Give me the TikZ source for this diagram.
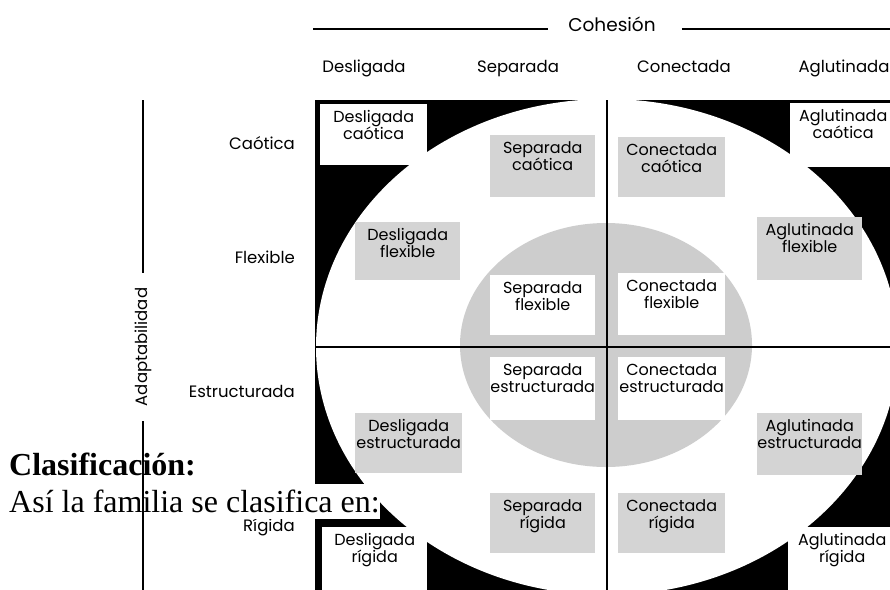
\documentclass[tikz,border=0pt]{standalone}
\usepackage{fontspec}
\setmainfont{Liberation Serif}
\newfontfamily\futfont{Poppins}
\usepackage{tikz}
\usepackage{xcolor}
\definecolor{cellgray}{RGB}{212,212,212}
\definecolor{ringgray}{RGB}{205,205,205}
\newcommand{\ctext}[3]{\parbox[t][#2][t]{#1}{\centering\rule{0pt}{18pt}#3}}

\begin{document}
\begin{tikzpicture}[x=1pt,y=-1pt,
    cell/.style={inner sep=0pt,anchor=north west,font=\futfont\fontsize{16}{17}\selectfont},
    graycell/.style={cell,fill=cellgray},
    whitecell/.style={cell,fill=white},
    axislabel/.style={inner sep=0pt,font=\futfont\fontsize{16.5}{18}\selectfont},
    axisline/.style={line width=2.2pt}]
\clip (0,0) rectangle (890,589);
\fill[white] (0,0) rectangle (890,589);
% circumplex background
\fill[black] (315,100) rectangle (900,600);
\fill[white] (607,347) ellipse [x radius=291pt,y radius=248pt];
\fill[ringgray] (606,345) ellipse [x radius=146pt,y radius=122pt];
\draw[line width=2.5pt] (607,100) -- (607,600);
\draw[line width=2.5pt] (315,347) -- (900,347);
% cells
\node[whitecell] (dc) at (320,104) {\ctext{107pt}{61pt}{Desligada\\caótica}};
\node[graycell] (sc) at (490,135) {\ctext{105pt}{62pt}{Separada\\caótica}};
\node[graycell] (cc) at (618,137) {\ctext{107pt}{60pt}{Conectada\\caótica}};
\node[whitecell] (ac) at (790,103) {\ctext{106pt}{64pt}{Aglutinada\\caótica}};
\node[graycell] (df) at (355,222) {\ctext{105pt}{58pt}{Desligada\\flexible}};
\node[whitecell] (sf) at (490,275) {\ctext{105pt}{60pt}{Separada\\flexible}};
\node[whitecell] (cf) at (618,273) {\ctext{107pt}{62pt}{Conectada\\flexible}};
\node[graycell] (af) at (757,217) {\ctext{105pt}{63pt}{Aglutinada\\flexible}};
\node[whitecell] (se) at (490,357) {\ctext{105pt}{63pt}{Separada\\estructurada}};
\node[graycell] (de) at (355,413) {\ctext{107pt}{60pt}{Desligada\\estructurada}};
\node[whitecell] (ce) at (618,357) {\ctext{107pt}{63pt}{Conectada\\estructurada}};
\node[graycell] (ae) at (757,413) {\ctext{105pt}{62pt}{Aglutinada\\estructurada}};
\node[graycell] (sr) at (490,493) {\ctext{105pt}{60pt}{Separada\\rígida}};
\node[whitecell] (dr) at (322,527) {\ctext{105pt}{70pt}{Desligada\\rígida}};
\node[graycell] (cr) at (618,493) {\ctext{107pt}{60pt}{Conectada\\rígida}};
\node[whitecell] (ar) at (788,527) {\ctext{108pt}{70pt}{Aglutinada\\rígida}};
% cohesion axis
\node[axislabel,anchor=base,font=\futfont\fontsize{18.5}{20}\selectfont] (coh) at (612,31) {Cohesión};
\coordinate (cohl) at (313,29);
\coordinate (cohr) at (890,29);
\draw[axisline] (cohl) -- ([xshift=-20pt]coh.west |- cohl);
\draw[axisline] ([xshift=26pt]coh.east |- cohr) -- (cohr);
\node[axislabel,anchor=base] (desl) at (364,72) {Desligada};
\node[axislabel,anchor=base] (sepa) at (518,72) {Separada};
\node[axislabel,anchor=base] (cone) at (684,72) {Conectada};
\node[axislabel,anchor=base] (aglu) at (844,72) {Aglutinada};
% adaptability axis
\node[axislabel,anchor=base east] (caot) at (295,149) {Caótica};
\node[axislabel,anchor=base east] (flex) at (295,263) {Flexible};
\node[axislabel,anchor=base east] (estr) at (295,397) {Estructurada};
\node[axislabel,anchor=base east] (rigi) at (295,531) {Rígida};
% page text over the picture
\node[anchor=base west,inner sep=0pt,font=\bfseries\fontsize{32}{37}\selectfont] (clasif) at (9,475) {Clasificación:};
\node[anchor=base west,inner sep=0pt,fill=white,text height=28pt,text depth=7pt,font=\fontsize{32}{37}\selectfont] (asi) at (9,512) {Así la familia se clasifica en:};
\node[axislabel,rotate=90,inner xsep=15pt] (adap) at (143,347) {Adaptabilidad};
\coordinate (axtop) at (143,100);
\coordinate (axbot) at (143,595);
\draw[axisline] (axtop) -- (axtop |- adap.east);
\draw[axisline] (axbot |- adap.west) -- (axbot);
\end{tikzpicture}
\end{document}
